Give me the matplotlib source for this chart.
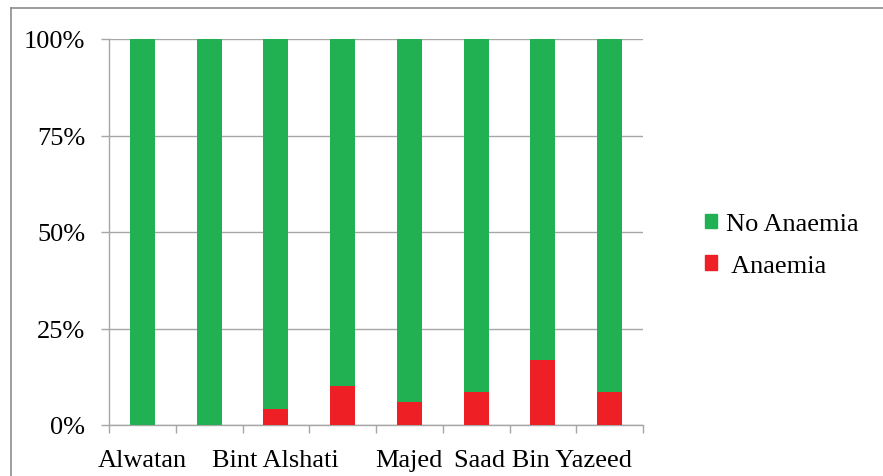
import numpy as np
import matplotlib
matplotlib.use('Agg')
import matplotlib.pyplot as plt
from matplotlib.patches import Patch
from matplotlib.lines import Line2D

plt.rcParams['font.family'] = ['Liberation Serif', 'DejaVu Serif']

# Datos (porcentaje por escuela); solo se ven etiquetas alternas
escuelas = ['Alwatan', '', 'Bint Alshati', '', 'Majed', '', 'Saad Bin Yazeed', '']
anemia = [0.0, 0.0, 4.2, 10.0, 5.9, 8.6, 16.9, 8.6]
no_anemia = [100 - a for a in anemia]

verde = '#21B152'
rojo = '#EF1F26'
gris = '#A6A6A6'

fig = plt.figure(figsize=(8.83, 4.77), dpi=100)
ax = fig.add_axes([109 / 883, 51 / 477, 534 / 883, 386 / 477])

x = np.arange(len(escuelas))
ax.bar(x, anemia, width=0.375, color=rojo, zorder=3, label='Anaemia')
ax.bar(x, no_anemia, width=0.375, bottom=anemia, color=verde, zorder=3, label='No Anaemia')

ax.set_xlim(-0.5, len(escuelas) - 0.5)
ax.set_ylim(0, 100)
ax.set_yticks([0, 25, 50, 75, 100])
ax.set_yticklabels(['0%', '25%', '50%', '75%', '100%'])
ax.yaxis.grid(True, color=gris, linewidth=1, zorder=0)

ax.set_xticks(x)
ax.set_xticklabels(escuelas)
ax.set_xticks(np.arange(-0.5, len(escuelas)), minor=True)
ax.tick_params(axis='x', which='major', length=0, pad=17, labelsize=19)
ax.tick_params(axis='x', which='minor', length=6, color=gris, width=1)
ax.tick_params(axis='y', length=6, color=gris, width=1, pad=11, labelsize=19)

for s in ['top', 'right']:
    ax.spines[s].set_visible(False)
for s in ['left', 'bottom']:
    ax.spines[s].set_color(gris)
    ax.spines[s].set_linewidth(1)

handles = [Patch(color=verde), Patch(color=rojo)]
fig.legend(handles, ['No Anaemia', ' Anaemia'], loc='center left',
           bbox_to_anchor=(681 / 883, 1 - 246 / 477), frameon=False,
           fontsize=19, handlelength=0.45, handleheight=0.45,
           handletextpad=0.35, labelspacing=0.75)

# borde del grafico
fig.add_artist(Line2D([11 / 883, 1], [1 - 9 / 477, 1 - 9 / 477], color='#8C8C8C', linewidth=1.2))
fig.add_artist(Line2D([11 / 883, 11 / 883], [0, 1 - 9 / 477], color='#8C8C8C', linewidth=1.2))

plt.savefig('out.png', dpi=100)
